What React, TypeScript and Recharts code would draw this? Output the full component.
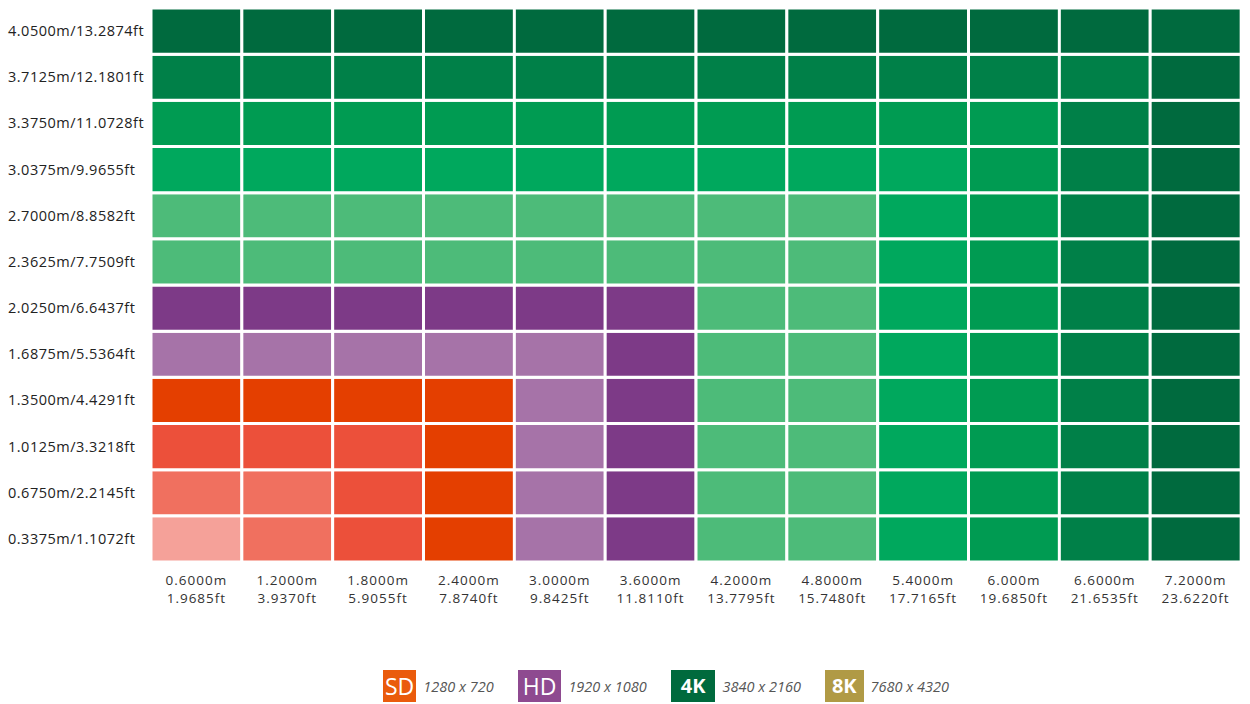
import React from 'react';
import { BarChart, Bar, XAxis, YAxis, Cell, Legend } from 'recharts';

// screen widths (columns, left to right)
const widthMeters = ['0.6000m', '1.2000m', '1.8000m', '2.4000m', '3.0000m', '3.6000m', '4.2000m', '4.8000m', '5.4000m', '6.000m', '6.6000m', '7.2000m'];
const widthFeet = ['1.9685ft', '3.9370ft', '5.9055ft', '7.8740ft', '9.8425ft', '11.8110ft', '13.7795ft', '15.7480ft', '17.7165ft', '19.6850ft', '21.6535ft', '23.6220ft'];

// screen heights (rows, bottom to top)
const heightLabels = [
    '0.3375m/1.1072ft', '0.6750m/2.2145ft', '1.0125m/3.3218ft', '1.3500m/4.4291ft',
    '1.6875m/5.5364ft', '2.0250m/6.6437ft', '2.3625m/7.7509ft', '2.7000m/8.8582ft',
    '3.0375m/9.9655ft', '3.3750m/11.0728ft', '3.7125m/12.1801ft', '4.0500m/13.2874ft',
];

// resolution tier of every cell, rows bottom to top, columns left to right
const tierRows = [
    ['sd4', 'sd3', 'sd2', 'sd1', 'hd2', 'hd1', 'k1', 'k1', 'k2', 'k3', 'k4', 'k5'],
    ['sd3', 'sd3', 'sd2', 'sd1', 'hd2', 'hd1', 'k1', 'k1', 'k2', 'k3', 'k4', 'k5'],
    ['sd2', 'sd2', 'sd2', 'sd1', 'hd2', 'hd1', 'k1', 'k1', 'k2', 'k3', 'k4', 'k5'],
    ['sd1', 'sd1', 'sd1', 'sd1', 'hd2', 'hd1', 'k1', 'k1', 'k2', 'k3', 'k4', 'k5'],
    ['hd2', 'hd2', 'hd2', 'hd2', 'hd2', 'hd1', 'k1', 'k1', 'k2', 'k3', 'k4', 'k5'],
    ['hd1', 'hd1', 'hd1', 'hd1', 'hd1', 'hd1', 'k1', 'k1', 'k2', 'k3', 'k4', 'k5'],
    ['k1', 'k1', 'k1', 'k1', 'k1', 'k1', 'k1', 'k1', 'k2', 'k3', 'k4', 'k5'],
    ['k1', 'k1', 'k1', 'k1', 'k1', 'k1', 'k1', 'k1', 'k2', 'k3', 'k4', 'k5'],
    ['k2', 'k2', 'k2', 'k2', 'k2', 'k2', 'k2', 'k2', 'k2', 'k3', 'k4', 'k5'],
    ['k3', 'k3', 'k3', 'k3', 'k3', 'k3', 'k3', 'k3', 'k3', 'k3', 'k4', 'k5'],
    ['k4', 'k4', 'k4', 'k4', 'k4', 'k4', 'k4', 'k4', 'k4', 'k4', 'k4', 'k5'],
    ['k5', 'k5', 'k5', 'k5', 'k5', 'k5', 'k5', 'k5', 'k5', 'k5', 'k5', 'k5'],
];

const legendTags = ['SD', 'HD', '4K', '8K'];
const legendRes = ['1280 x 720', '1920 x 1080', '3840 x 2160', '7680 x 4320'];

const palette: Record<string, string> = {
    sd1: '#E43F00',
    sd2: '#EC503A',
    sd3: '#F0705F',
    sd4: '#F5A199',
    hd1: '#7D3A87',
    hd2: '#A673A8',
    k1: '#4DBB79',
    k2: '#00A85D',
    k3: '#009B52',
    k4: '#008048',
    k5: '#006A3E',
};

const legendColors = ['#EA5B0C', '#8E4A90', '#006A3D', '#B09A45'];
const legendPad = ['0 2px', '0 5px', '0 10px', '0 7px'];
const FONT = '"Open Sans", "Noto Sans", sans-serif';

const data = widthMeters.map((m, ci) => {
    const row: Record<string, string | number> = { m, ft: widthFeet[ci] };
    heightLabels.forEach((_, ri) => { row['r' + ri] = 1; });
    return row;
});

const XTick = (props: any) => {
    const { x, y, index } = props;
    return (
        <g>
            <text x={x} y={y + 15} textAnchor="middle" fontSize={13.5} letterSpacing={1} fill="#333" fontFamily={FONT}>
                {widthMeters[index]}
            </text>
            <text x={x} y={y + 33} textAnchor="middle" fontSize={13.5} letterSpacing={1} fill="#333" fontFamily={FONT}>
                {widthFeet[index]}
            </text>
        </g>
    );
};

const YTick = (props: any) => {
    const { y, payload } = props;
    return (
        <text x={8} y={y + 5} textAnchor="start" fontSize={14.5} letterSpacing={0.5} fill="#222" fontFamily={FONT}>
            {heightLabels[Math.floor(payload.value)]}
        </text>
    );
};

const LegendBox = () => (
    <div style={{ display: 'flex', alignItems: 'center', paddingLeft: 383, fontFamily: FONT }}>
        {legendTags.map((tag, i) => {
            const bold = tag === '4K' || tag === '8K';
            return (
                <div key={tag} style={{ display: 'flex', alignItems: 'center', marginRight: 24 }}>
                    <span style={{
                        background: legendColors[i], color: '#fff', height: 32, lineHeight: '32px',
                        padding: legendPad[i], fontSize: bold ? 20 : 23,
                        fontWeight: bold ? 700 : 400,
                    }}>{tag}</span>
                    <span style={{ fontStyle: 'italic', color: '#555', fontSize: 14.5, marginLeft: 7 }}>{legendRes[i]}</span>
                </div>
            );
        })}
    </div>
);

const App: React.FC = () => {
    return (
        <div style={{ width: 1250, height: 704, background: '#fff' }}>
            <style>{'body{margin:0}'}</style>
            <BarChart
                width={1250}
                height={704}
                data={data}
                margin={{ top: 8, right: 9, left: 0, bottom: 82 }}
                barCategoryGap={0}
                barGap={0}
            >
                <XAxis dataKey="m" axisLine={false} tickLine={false} height={60} interval={0} tick={<XTick />} />
                <YAxis
                    type="number"
                    domain={[0, heightLabels.length]}
                    ticks={heightLabels.map((_, i) => i + 0.5)}
                    axisLine={false}
                    tickLine={false}
                    width={151}
                    interval={0}
                    tick={<YTick />}
                />
                {heightLabels.map((_, ri) => (
                    <Bar key={ri} dataKey={'r' + ri} stackId="grid" stroke="#fff" strokeWidth={3} isAnimationActive={false}>
                        {data.map((_, ci) => (
                            <Cell key={ci} fill={palette[tierRows[ri][ci]]} />
                        ))}
                    </Bar>
                ))}
                <Legend
                    layout="horizontal"
                    verticalAlign="middle"
                    content={<LegendBox />}
                    wrapperStyle={{ top: 670, left: 0, width: 1250 }}
                />
            </BarChart>
        </div>
    );
};

export default App;
